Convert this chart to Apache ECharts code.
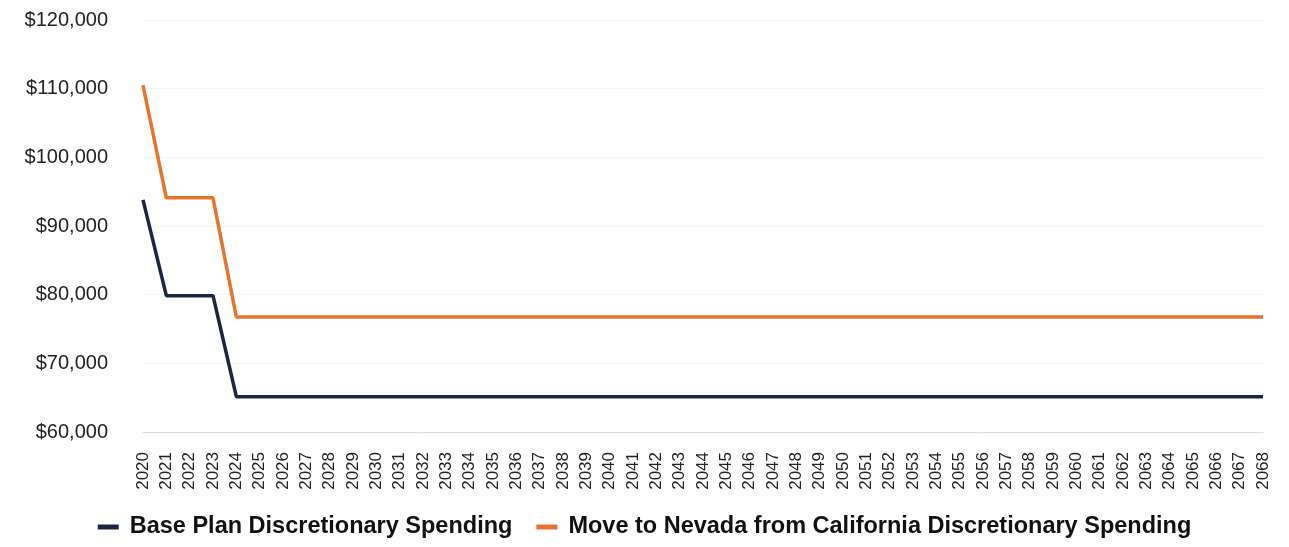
<!DOCTYPE html>
<html>
<head>
<meta charset="utf-8">
<script src="https://cdn.jsdelivr.net/npm/echarts@6/dist/echarts.min.js"></script>
<style>
  html, body { margin: 0; padding: 0; background: #fff; }
  #chart { width: 1289px; height: 547px; }
</style>
</head>
<body>
<div id="chart"></div>
<script>
// Years shown along the x axis
const years = [];
for (let y = 2020; y <= 2068; y++) years.push(String(y));

// Annual discretionary spending, dollars
const basePlan = [93800, 79850, 79850, 79850, 65150, 65150, 65150, 65150, 65150, 65150,
  65150, 65150, 65150, 65150, 65150, 65150, 65150, 65150, 65150, 65150,
  65150, 65150, 65150, 65150, 65150, 65150, 65150, 65150, 65150, 65150,
  65150, 65150, 65150, 65150, 65150, 65150, 65150, 65150, 65150, 65150,
  65150, 65150, 65150, 65150, 65150, 65150, 65150, 65150, 65150];
const moveToNevada = [110500, 94100, 94100, 94100, 76750, 76750, 76750, 76750, 76750, 76750,
  76750, 76750, 76750, 76750, 76750, 76750, 76750, 76750, 76750, 76750,
  76750, 76750, 76750, 76750, 76750, 76750, 76750, 76750, 76750, 76750,
  76750, 76750, 76750, 76750, 76750, 76750, 76750, 76750, 76750, 76750,
  76750, 76750, 76750, 76750, 76750, 76750, 76750, 76750, 76750];

const seriesNames = ['Base Plan Discretionary Spending', 'Move to Nevada from California Discretionary Spending'];
const colors = ['#1b2545', '#e8732c'];

const chart = echarts.init(document.getElementById('chart'));
chart.setOption({
  animation: false,
  textStyle: { fontFamily: 'Liberation Sans, Arial, sans-serif' },
  grid: { left: 143, right: 26, top: 20, bottom: 115 },
  legend: {
    bottom: 3,
    left: 'center',
    itemWidth: 21,
    itemHeight: 5,
    itemGap: 24,
    icon: 'rect',
    textStyle: { fontSize: 23.5, fontWeight: 'bold', color: '#111', padding: [0, 0, 0, 6] },
    data: seriesNames
  },
  xAxis: {
    type: 'category',
    data: years,
    boundaryGap: false,
    axisLine: { show: true, lineStyle: { color: '#dcdcdc', width: 1 } },
    axisTick: { show: false },
    axisLabel: { rotate: 90, fontSize: 17, color: '#222', interval: 0, margin: 20 }
  },
  yAxis: {
    type: 'value',
    min: 60000,
    max: 120000,
    interval: 10000,
    axisLine: { show: false },
    axisTick: { show: false },
    splitLine: { lineStyle: { color: '#f5f5f5', width: 1 } },
    axisLabel: {
      fontSize: 20,
      color: '#222',
      margin: 35,
      formatter: v => '$' + v.toLocaleString('en-US')
    }
  },
  series: [
    {
      name: seriesNames[0],
      type: 'line',
      data: basePlan,
      symbol: 'none',
      color: colors[0],
      lineStyle: { width: 3.5, color: colors[0] }
    },
    {
      name: seriesNames[1],
      type: 'line',
      data: moveToNevada,
      symbol: 'none',
      color: colors[1],
      lineStyle: { width: 3.5, color: colors[1] }
    }
  ]
});
</script>
</body>
</html>
